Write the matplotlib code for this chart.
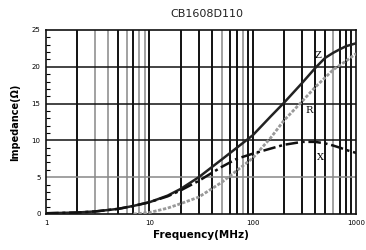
import numpy as np
import matplotlib
matplotlib.use("Agg")
import matplotlib.pyplot as plt

freq = [1, 2, 3, 5, 7, 10, 15, 20, 30, 50, 70, 100, 150, 200, 300, 400, 500, 600, 700, 800, 1000]
z_vals = [0.1, 0.2, 0.35, 0.7, 1.1, 1.6, 2.5, 3.4, 5.0, 7.4, 9.0, 10.7, 13.3, 15.1, 17.8, 19.8, 21.2, 21.9, 22.4, 22.8, 23.2]
x_vals = [0.1, 0.2, 0.35, 0.7, 1.1, 1.6, 2.4, 3.2, 4.5, 6.4, 7.5, 8.2, 8.9, 9.4, 9.8, 9.8, 9.6, 9.3, 9.0, 8.7, 8.3]
r_freq = [7, 10, 15, 20, 30, 50, 70, 100, 150, 200, 300, 400, 600, 800, 1000]
r_vals = [0.0, 0.2, 0.8, 1.4, 2.3, 4.3, 5.9, 7.6, 10.4, 12.7, 15.3, 17.2, 19.6, 20.8, 21.8]

grid_freqs = [2, 3, 4, 5, 6, 7, 8, 9, 10, 20, 30, 40, 50, 60, 70, 80, 90, 100,
              200, 300, 400, 500, 600, 700, 800, 900]
grid_dark = [1, 0, 0, 1, 0, 1, 0, 0, 1, 1, 1, 1, 0, 1, 1, 0, 1, 1,
             1, 1, 1, 1, 0, 1, 1, 1]

fig = plt.figure(figsize=(3.66, 2.50), dpi=100)
ax = fig.add_axes([0.126, 0.144, 0.847, 0.736])
ax.set_xscale('log')
ax.set_xlim(1, 1000)
ax.set_ylim(0, 25)

for f, d in zip(grid_freqs, grid_dark):
    ax.axvline(f, color='#111111' if d else '#888888', lw=1.4 if d else 1.1, zorder=1)
for yv, c in zip([5, 10, 15, 20], ['#888888', '#111111', '#111111', '#111111']):
    ax.axhline(yv, color=c, lw=1.1, zorder=1)

ax.plot(freq, z_vals, color='#222222', lw=1.8, zorder=3)
ax.plot(r_freq, r_vals, color='#999999', lw=2.0, ls=(0, (1.2, 0.6)), zorder=3)
ax.plot(freq, x_vals, color='#111111', lw=1.8, ls=(0, (5, 1.5, 1.2, 1.5)), zorder=4)

ax.text(430, 21.6, 'Z', fontsize=7, family='DejaVu Serif', va='center', ha='center')
ax.text(350, 14.1, 'R', fontsize=7, family='DejaVu Serif', va='center', ha='center')
ax.text(450, 7.7, 'X', fontsize=7, family='DejaVu Serif', va='center', ha='center')

ax.set_xticks([1, 10, 100, 1000])
ax.set_xticklabels(['1', '10', '100', '1000'])
ax.xaxis.set_minor_locator(matplotlib.ticker.NullLocator())
ax.set_yticks([0, 5, 10, 15, 20, 25])
ax.set_yticks(np.arange(0, 26, 1), minor=True)
ax.tick_params(axis='both', which='major', labelsize=5, length=0, pad=4)
ax.tick_params(axis='y', which='minor', direction='in', length=3, width=0.8)
ax.tick_params(axis='x', which='both', length=0)
for s in ax.spines.values():
    s.set_linewidth(1.2)
    s.set_color('#111111')

ax.set_xlabel('Frequency(MHz)', fontsize=7.5, fontweight='bold', labelpad=3)
ax.set_ylabel('Impedance(Ω)', fontsize=7, fontweight='bold', labelpad=8)
fig.text(0.565, 0.945, 'CB1608D110', fontsize=8, ha='center', va='center', color='#222222')

fig.savefig('out.png', dpi=100)
